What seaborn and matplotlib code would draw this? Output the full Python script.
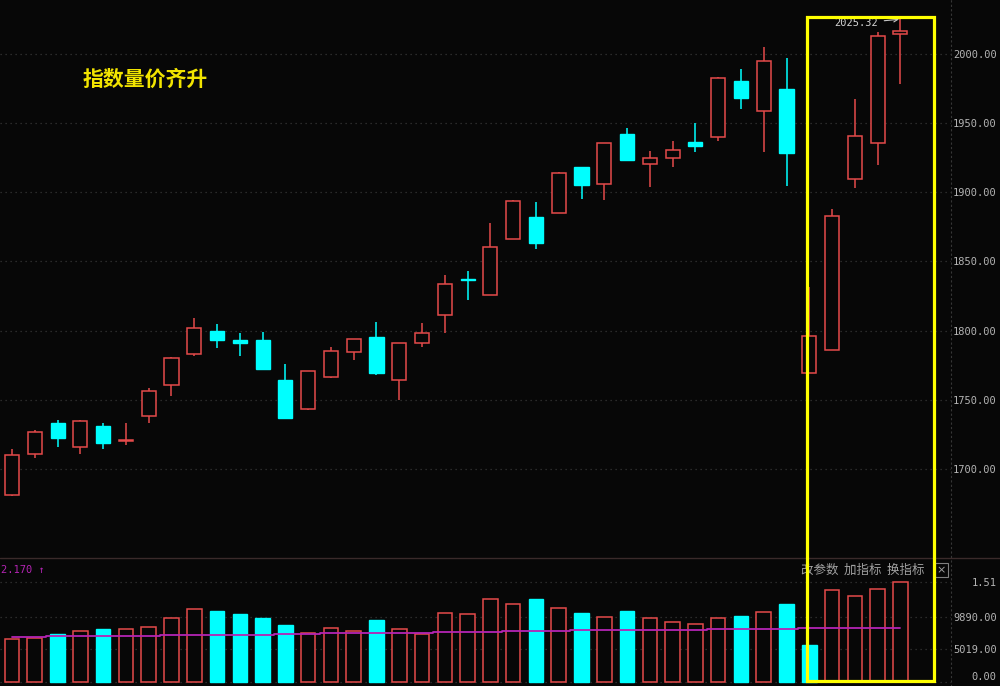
import matplotlib
matplotlib.use("Agg")
import matplotlib.pyplot as plt
from matplotlib.patches import Rectangle
from matplotlib.lines import Line2D
import numpy as np
import seaborn as sns

# daily candles (index points)
opens = [1681, 1711, 1733.5, 1715.5, 1731, 1720.4, 1738.5, 1760.5, 1783, 1799.5,
         1793.5, 1793, 1764, 1743, 1766.5, 1784.5, 1795.5, 1764, 1791, 1811.5,
         1837.4, 1825.6, 1866.3, 1882, 1885, 1918.5, 1906, 1942.3, 1920.8, 1925,
         1936.3, 1940.3, 1980.4, 1959, 1974.6, 1769.3, 1786, 1909.5, 1935.5, 2014.8]
highs = [1714, 1728, 1735, 1735, 1733.5, 1733.5, 1758.5, 1781, 1809, 1805,
         1798, 1799, 1775.5, 1771, 1788, 1794.2, 1806, 1791, 1805.5, 1840,
         1843, 1877.5, 1894.2, 1893.3, 1914.5, 1918.7, 1936, 1946.6, 1930, 1937,
         1950, 1983.2, 1989, 2005.5, 1997, 1831.3, 1887.8, 1967.5, 2015.8, 2025.32]
lows = [1680, 1707.5, 1716, 1711, 1714.5, 1717.5, 1733.5, 1753, 1781.5, 1787.5,
        1781.5, 1772, 1736.5, 1742.5, 1765.5, 1778.5, 1768, 1750, 1788, 1798,
        1822, 1825.5, 1866, 1859, 1884.8, 1895.2, 1894.5, 1922.7, 1903.7, 1918.5,
        1929.5, 1937.4, 1960.3, 1929.5, 1904.8, 1769, 1785.8, 1903, 1920, 1978.4]
closes = [1710, 1727, 1722, 1734.5, 1719, 1720.8, 1756, 1780.5, 1802, 1793,
          1791, 1772.2, 1737, 1770.5, 1785, 1794, 1769, 1790.8, 1798.5, 1833.5,
          1836.8, 1860.3, 1894, 1863.5, 1914.3, 1905, 1935.7, 1923.4, 1925, 1930.7,
          1933.9, 1983, 1968.3, 1995.3, 1928.7, 1796.3, 1883, 1940.6, 2013.2, 2016.6]

volumes = [6490, 6640, 7250, 7700, 8000, 8000, 8300, 9660, 11020, 10720,
           10270, 9660, 8610, 7350, 8200, 7750, 9320, 8050, 7200, 10460,
           10310, 12530, 11820, 12580, 11170, 10370, 9860, 10680, 9710, 9100,
           8800, 9660, 9970, 10570, 11780, 5590, 13890, 12990, 14040, 15100]
vol_up = [1, 1, 0, 1, 0, 1, 1, 1, 1, 0,
          0, 0, 0, 1, 1, 1, 0, 1, 1, 1,
          1, 1, 1, 0, 1, 0, 1, 0, 1, 1,
          1, 1, 0, 1, 0, 0, 1, 1, 1, 1]
vol_ma = [6840, 6840, 6900, 6950, 6950, 6990, 6990, 7100, 7140, 7140,
          7140, 7140, 7290, 7290, 7350, 7350, 7440, 7440, 7440, 7500,
          7600, 7600, 7750, 7750, 7750, 7900, 7900, 7900, 7900, 7900,
          7900, 7950, 8050, 8050, 8050, 8100, 8100, 8200, 8200, 8200]

price_ticks = [1700, 1750, 1800, 1850, 1900, 1950, 2000]
vol_ticks = [0, 5019, 9890, 15100]
vol_tick_labels = ["0.00", "5019.00", "9890.00", "1.51"]

title_text = "指数量价齐升"
peak_label = "2025.32"
menu_text = "改参数  加指标  换指标"
vol_indicator = "2.170 ↑"

BG = "#070707"
RED = "#e44a4a"
CYAN = "#00ffff"
GRID = "#363636"
LABEL = "#b4b4b4"
MAGENTA = "#b424b4"
CJK = ["Noto Sans CJK SC", "DejaVu Sans"]

sns.set_style("dark", {"axes.facecolor": BG, "figure.facecolor": BG})
plt.rcParams["font.family"] = ["DejaVu Sans Mono", "Noto Sans CJK SC"]

fig = plt.figure(figsize=(10, 6.86), dpi=100, facecolor=BG)
ax = fig.add_axes([0, 1 - 557 / 686, 0.951, 557 / 686])
vax = fig.add_axes([0, 0, 0.951, 128 / 686])

o = np.array(opens)
c = np.array(closes)
h = np.array(highs)
l = np.array(lows)
idx = np.arange(len(o))
up = c >= o
colors = np.where(up, RED, CYAN)
body_lo = np.minimum(o, c)
body_hi = np.maximum(o, c)
body_h = np.maximum(body_hi - body_lo, 0.35)

# wicks
ax.vlines(idx, body_hi, h, colors=colors, lw=1.1, zorder=1)
ax.vlines(idx, l, body_lo, colors=colors, lw=1.1, zorder=1)
# bodies
ax.bar(idx[up], body_h[up], bottom=body_lo[up], width=0.62,
       facecolor=BG, edgecolor=RED, linewidth=1.1, zorder=2)
ax.bar(idx[~up], body_h[~up], bottom=body_lo[~up], width=0.62,
       facecolor=CYAN, edgecolor=CYAN, linewidth=1.0, zorder=2)

ax.set_xlim(-0.527, 41.22)
ax.set_ylim(1636.2, 2039.2)
ax.set_xticks([])
ax.set_yticks(price_ticks)
ax.set_yticklabels([f"{v:.2f}" for v in price_ticks])
ax.yaxis.tick_right()
ax.tick_params(axis="y", length=0, pad=33, colors=LABEL, labelsize=7.5)
for lbl in ax.get_yticklabels():
    lbl.set_ha("right")
ax.grid(axis="y", color=GRID, linestyle=(0, (1, 3)), lw=0.9)
ax.grid(axis="x", visible=False)

peak_i = int(np.argmax(h))
ax.annotate(peak_label, xy=(peak_i, h[peak_i]), xytext=(-16, -3),
            textcoords="offset points", ha="right", va="center",
            color="#d4d4d4", fontsize=7.5,
            arrowprops=dict(arrowstyle="->", color="#c8c8c8", lw=0.8,
                            shrinkA=2, shrinkB=1))

# volume panel
sns.barplot(x=idx, y=volumes, ax=vax, width=0.64, color=CYAN, errorbar=None,
            saturation=1)
for bar, is_up in zip(vax.containers[0], vol_up):
    if is_up:
        bar.set_facecolor(BG)
        bar.set_edgecolor(RED)
        bar.set_linewidth(1.1)
    else:
        bar.set_facecolor(CYAN)
        bar.set_edgecolor(CYAN)
sns.lineplot(x=idx, y=vol_ma, ax=vax, color=MAGENTA, lw=1.3,
             drawstyle="steps-mid", zorder=5)

vax.set_xlim(-0.527, 41.22)
vax.set_ylim(-604, 18724)
vax.set_xticks([])
vax.set_xlabel("")
vax.set_ylabel("")
vax.set_yticks(vol_ticks)
vax.set_yticklabels(vol_tick_labels)
vax.yaxis.tick_right()
vax.tick_params(axis="y", length=0, pad=33, colors=LABEL, labelsize=7.5)
for lbl in vax.get_yticklabels():
    lbl.set_ha("right")
vax.get_yticklabels()[0].set_va("bottom")
vax.grid(axis="y", color=GRID, linestyle=(0, (1, 3)), lw=0.9)
vax.grid(axis="x", visible=False)

for a in (ax, vax):
    for side in ("top", "left", "bottom"):
        a.spines[side].set_visible(False)
    a.spines["right"].set_visible(True)
    a.spines["right"].set_color(GRID)
    a.spines["right"].set_linestyle((0, (1, 3)))

# panel separator
fig.add_artist(Line2D([0, 1], [1 - 557.5 / 686] * 2, color="#3a2a2a", lw=1.0))

# annotations
fig.text(0.083, 1 - 79 / 686, title_text, color="#f2e400", fontsize=15,
         fontweight="bold", family=CJK, va="center")
fig.text(0.001, 1 - 570 / 686, vol_indicator, color=MAGENTA, fontsize=7.5,
         va="center")
fig.text(0.801, 1 - 570 / 686, menu_text, color="#a0a0a0", fontsize=9,
         family=CJK, va="center")
fig.text(0.9415, 1 - 570 / 686, "×", color="#a0a0a0", fontsize=8,
         family="DejaVu Sans", va="center", ha="center",
         bbox=dict(boxstyle="square,pad=0.15", fc="none", ec="#808080", lw=0.8))

fig.add_artist(Rectangle((0.8065, 1 - 681 / 686), 0.1275, (681 - 17) / 686,
                         transform=fig.transFigure, fill=False,
                         edgecolor="#ffff00", lw=2.3, zorder=10))

fig.savefig("out.png", dpi=100, facecolor=BG)
